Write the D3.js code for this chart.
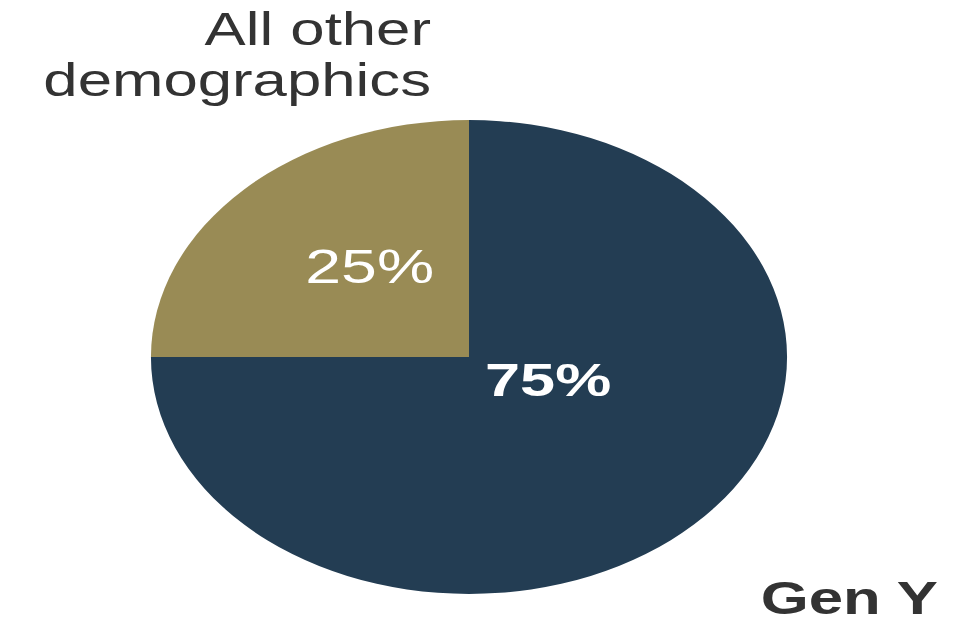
<!DOCTYPE html>
<html>
<head>
<meta charset="utf-8">
<script src="https://cdn.jsdelivr.net/npm/d3@7"></script>
<style>
  body { margin: 0; background: #fff; }
  text { font-family: "Liberation Sans", Arial, sans-serif; }
</style>
</head>
<body>
<div id="chart"></div>
<script>
var svgWidth = 963;
var svgHeight = 624;

// slice data
var categories = ["Gen Y", "All other demographics"];
var shares = [75, 25];
var valueLabels = ["75%", "25%"];
var colors = ["#233d53", "#998b55"];

// the picture is stretched sideways
var stretch = 1.342;
var cx = 469, cy = 357;
var radius = 237;

var svg = d3.select("#chart")
    .append("svg")
    .attr("width", svgWidth)
    .attr("height", svgHeight);

var pieGroup = svg.append("g")
    .attr("transform", `translate(${cx}, ${cy}) scale(${stretch}, 1)`);

var pie = d3.pie()
    .sort(null)
    .value(d => d);

var arc = d3.arc()
    .innerRadius(0)
    .outerRadius(radius);

var slices = pie(shares);

pieGroup.selectAll("path")
    .data(slices)
    .enter()
    .append("path")
    .attr("d", arc)
    .attr("fill", (d, i) => colors[i]);

// percentage labels inside the slices (offsets from pie centre)
var labelPos = [[59, 39], [-74, -74]];

pieGroup.selectAll("text.pct")
    .data(slices)
    .enter()
    .append("text")
    .attr("class", "pct")
    .attr("x", (d, i) => labelPos[i][0])
    .attr("y", (d, i) => labelPos[i][1])
    .attr("text-anchor", "middle")
    .attr("font-size", (d, i) => i === 0 ? "47px" : "48px")
    .attr("font-weight", (d, i) => i === 0 ? "bold" : "normal")
    .attr("fill", "#ffffff")
    .text((d, i) => valueLabels[i]);

// category labels outside
var outer = svg.append("g")
    .attr("transform", `scale(${stretch}, 1)`);

outer.append("text")
    .attr("x", 431 / stretch)
    .attr("y", 45)
    .attr("text-anchor", "end")
    .attr("font-size", "46px")
    .attr("fill", "#333333")
    .text("All other");

outer.append("text")
    .attr("x", 431 / stretch)
    .attr("y", 96)
    .attr("text-anchor", "end")
    .attr("font-size", "46px")
    .attr("fill", "#333333")
    .text("demographics");

outer.append("text")
    .attr("x", 938 / stretch)
    .attr("y", 614)
    .attr("text-anchor", "end")
    .attr("font-size", "46px")
    .attr("font-weight", "bold")
    .attr("fill", "#333333")
    .text(categories[0]);
</script>
</body>
</html>
